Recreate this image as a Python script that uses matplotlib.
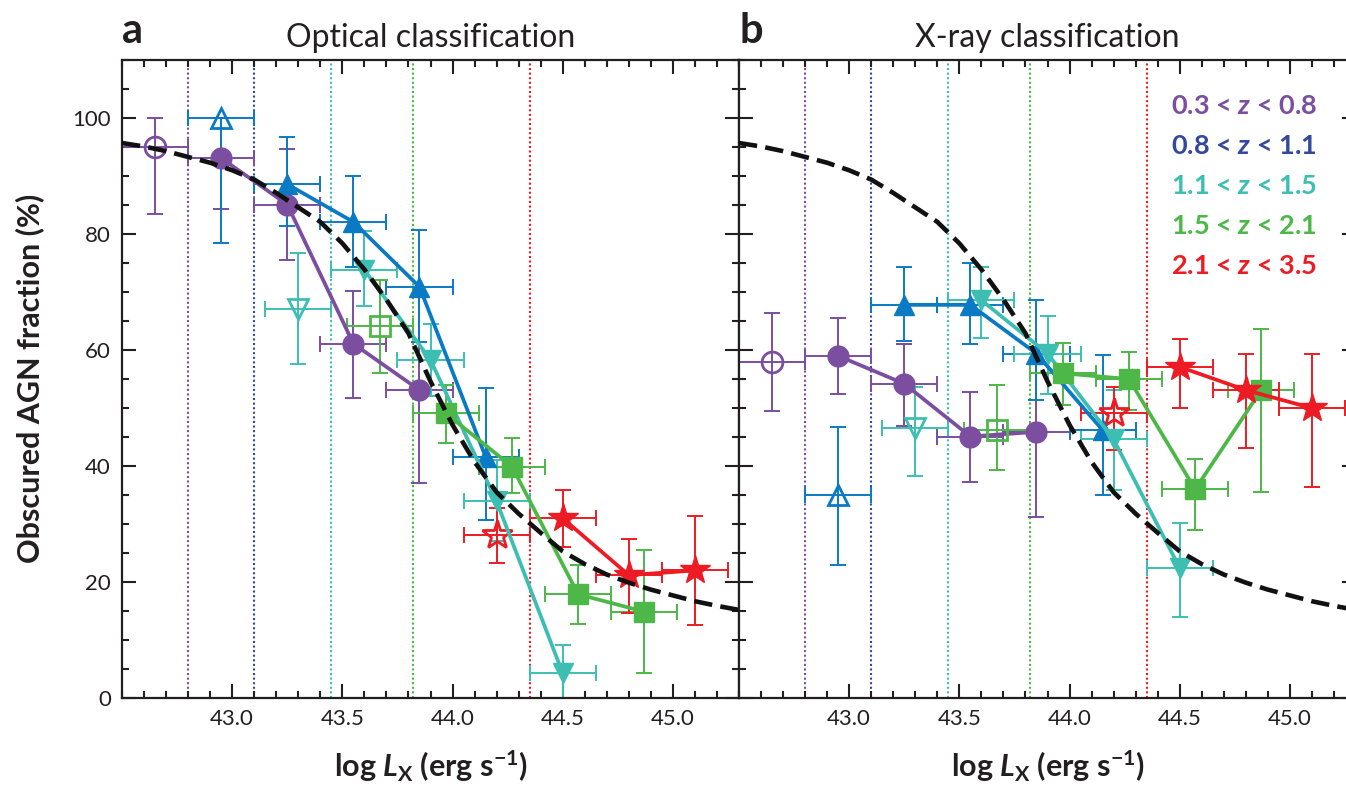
import numpy as np
import matplotlib
matplotlib.use('Agg')
import matplotlib.pyplot as plt
from matplotlib.ticker import MultipleLocator

plt.rcParams['font.family'] = ['Lato', 'DejaVu Sans']
plt.rcParams['mathtext.fontset'] = 'custom'
plt.rcParams['mathtext.rm'] = 'Lato:bold'
plt.rcParams['mathtext.it'] = 'Lato:bold:italic'
plt.rcParams['mathtext.bf'] = 'Lato:bold'

# redshift ranges
z_labels = ['0.3 < $z$ < 0.8', '0.8 < $z$ < 1.1', '1.1 < $z$ < 1.5',
            '1.5 < $z$ < 2.1', '2.1 < $z$ < 3.5']
# completeness limits (dotted lines), log Lx
z_limits = [42.8, 43.1, 43.45, 43.82, 44.35]

# bin centres (log Lx) of the connected (filled) points per z range
filled_x = [[42.95, 43.25, 43.55, 43.85],
            [43.25, 43.55, 43.85, 44.15],
            [43.6, 43.9, 44.2, 44.5],
            [43.97, 44.27, 44.57, 44.87],
            [44.5, 44.8, 45.1]]
# bin centre of the single open (incomplete) point per z range
open_x = [42.65, 42.95, 43.3, 43.67, 44.2]
bin_half = 0.15

# a: optical classification
opt_y = [[93, 85, 61, 53],
         [88.5, 82, 70.8, 41.5],
         [73.7, 58.2, 33.8, 4.2],
         [49, 39.8, 17.8, 14.8],
         [30.9, 21.1, 21.9]]
opt_lo = [[84.3, 75.4, 51.6, 37],
          [81.3, 74.3, 61.3, 30.6],
          [67.5, 52, 27, 0],
          [43.8, 35.3, 12.7, 4.3],
          [26, 14.6, 12.5]]
opt_hi = [[100, 94.6, 70.1, 69],
          [96.7, 89.9, 80.6, 53.3],
          [80.5, 64.4, 41, 9.1],
          [53.9, 44.7, 22.8, 25.4],
          [35.8, 27.3, 31.3]]
opt_open_y = [95, 100, 67, 64, 28]
opt_open_lo = [83.4, 78.3, 57.5, 56, 23.2]
opt_open_hi = [100, 100, 76.6, 72, 32.6]

# b: X-ray classification
xr_y = [[58.9, 54.1, 45, 45.8],
        [67.7, 67.7, 59.3, 46.1],
        [68.5, 59.3, 44.5, 22.3],
        [55.9, 54.9, 35.9, 53],
        [57, 53, 49.9]]
xr_lo = [[52.4, 46.8, 37.2, 31.2],
         [61.5, 61, 51.3, 34.9],
         [61.9, 52.4, 35.7, 13.9],
         [50.4, 49.6, 28.8, 35.5],
         [50, 43.1, 36.3]]
xr_hi = [[65.4, 61, 52.6, 60.4],
         [74.3, 74.9, 68.5, 59.1],
         [74.3, 65.7, 53, 30.1],
         [61.1, 59.6, 41.1, 63.5],
         [61.8, 59.3, 59.3]]
xr_open_y = [57.9, 34.9, 46.4, 46.1, 49]
xr_open_lo = [49.4, 22.8, 38.2, 39.3, 42.7]
xr_open_hi = [66.3, 46.7, 53.6, 53.9, 53.5]

# model curve (dashed)
curve_x = [42.5, 42.6, 42.7, 42.8, 42.9, 43.0, 43.1, 43.2, 43.3, 43.4, 43.5, 43.6,
           43.7, 43.8, 43.9, 44.0, 44.1, 44.2, 44.3, 44.4, 44.5, 44.6, 44.7, 44.8,
           44.9, 45.0, 45.1, 45.2, 45.3]
curve_y = [95.6, 95.0, 94.2, 93.2, 92.2, 90.9, 89.3, 87.0, 84.5, 82.0, 78.3, 73.8,
           68.6, 62.8, 54.5, 47.0, 40.6, 35.4, 31.7, 28.4, 25.2, 23.0, 21.2, 19.8,
           18.6, 17.6, 16.6, 15.8, 15.1]

colors = ['#7b4ea0', '#0a7ac4', '#3cbfb2', '#4db848', '#ed1c24']
text_colors = ['#7b4ea0', '#34499e', '#3cbfb2', '#4db848', '#ed1c24']
line_colors = ['#7b4ea0', '#34499e', '#3cbfb2', '#4db848', '#ed1c24']
markers = ['o', '^', 'v', 's', '*']
msizes = [15, 15, 15, 14, 22]
ink = '#231f20'


def draw_panel(ax, fy, flo, fhi, oy, olo, ohi):
    for xv, c in zip(z_limits, line_colors):
        ax.axvline(xv, color=c, lw=1.5, ls=(0, (1, 1.2)), zorder=1)
    for i in range(5):
        c = colors[i]
        x = np.array(filled_x[i])
        y = np.array(fy[i])
        yerr = [y - np.array(flo[i]), np.array(fhi[i]) - y]
        ax.errorbar(x, y, yerr=yerr, xerr=bin_half, fmt='none', ecolor=c,
                    elinewidth=1.4, capsize=5.5, capthick=1.4, zorder=2)
        ax.plot(x, y, color=c, lw=2.7, marker=markers[i], ms=msizes[i],
                mec=c, mfc=c, zorder=3 + i * 0.1)
        # open point
        ax.errorbar([open_x[i]], [oy[i]], yerr=[[oy[i] - olo[i]], [ohi[i] - oy[i]]],
                    xerr=bin_half, fmt='none', ecolor=c, elinewidth=1.4,
                    capsize=5.5, capthick=1.4, zorder=2)
        ax.plot([open_x[i]], [oy[i]], ls='none', marker=markers[i], ms=msizes[i],
                mec=c, mfc='none', mew=2, zorder=3)
    ax.plot(curve_x, curve_y, color='#111111', lw=3.3, ls=(0, (4, 1.8)), zorder=6)

    ax.set_xlim(42.5, 45.3)
    ax.set_ylim(0, 110)
    ax.xaxis.set_major_locator(MultipleLocator(0.5))
    ax.xaxis.set_minor_locator(MultipleLocator(0.1))
    ax.yaxis.set_major_locator(MultipleLocator(20))
    ax.yaxis.set_minor_locator(MultipleLocator(5))
    ax.set_xticks([43.0, 43.5, 44.0, 44.5, 45.0])
    ax.set_xticklabels(['43.0', '43.5', '44.0', '44.5', '45.0'])
    ax.tick_params(which='both', direction='in', top=True, right=True,
                   width=1.5, labelsize=16, colors=ink, pad=8)
    ax.tick_params(which='major', length=10)
    ax.tick_params(which='minor', length=5)
    for s in ax.spines.values():
        s.set_linewidth(1.6)
        s.set_color(ink)
    ax.set_xlabel(r'log $L_{\mathrm{X}}$ (erg s$^{-1}$)', fontsize=22,
                  fontweight='bold', color=ink, labelpad=14)


fig = plt.figure(figsize=(13.46, 7.86), dpi=100)
ax1 = fig.add_axes([122 / 1346, 88.5 / 786, 617 / 1346, 638 / 786])
ax2 = fig.add_axes([739 / 1346, 88.5 / 786, 617 / 1346, 638 / 786])

draw_panel(ax1, opt_y, opt_lo, opt_hi, opt_open_y, opt_open_lo, opt_open_hi)
draw_panel(ax2, xr_y, xr_lo, xr_hi, xr_open_y, xr_open_lo, xr_open_hi)

ax1.set_ylabel('Obscured AGN fraction (%)', fontsize=22, fontweight='bold',
               color=ink, labelpad=20)
ax2.tick_params(labelleft=False)

ax1.set_title('Optical classification', fontsize=23, color=ink, pad=9)
ax2.set_title('X-ray classification', fontsize=23, color=ink, pad=9)
fig.text(122 / 1346, 1 - 31 / 786, 'a', fontsize=30, fontweight='bold',
         color=ink, ha='left', va='center')
fig.text(739 / 1346, 1 - 31 / 786, 'b', fontsize=30, fontweight='bold',
         color=ink, ha='left', va='center')

for i, lab in enumerate(z_labels):
    ax2.text(0.70, 0.927 - i * 0.0627, lab, transform=ax2.transAxes,
             fontsize=19.5, fontweight='bold', color=text_colors[i],
             ha='left', va='center')

fig.savefig('out.png', dpi=100)
